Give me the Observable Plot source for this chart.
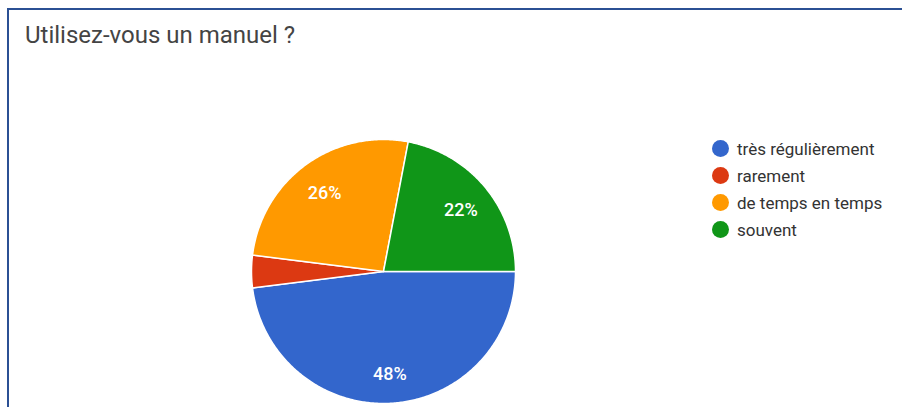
<!DOCTYPE html>
<html>
<head>
<meta charset="utf-8">
<script src="https://cdn.jsdelivr.net/npm/d3@7"></script>
<script src="https://cdn.jsdelivr.net/npm/@observablehq/plot@0.6"></script>
<style>
  html, body { margin: 0; padding: 0; background: #fff; }
  #wrap { position: relative; width: 902px; height: 407px; overflow: hidden; background: #fff; font-family: Roboto, "Noto Sans", sans-serif; }
  #frame { position: absolute; left: 7px; top: 8px; right: -10px; bottom: -10px; border-top: 2px solid #2b5094; border-left: 2px solid #2b5094; }
  #title { position: absolute; left: 25px; top: 21px; font-size: 24px; color: #444; white-space: nowrap; }
  #chart { position: absolute; left: 0; top: 0; }
  #legend { position: absolute; left: 712px; top: 135px; font-size: 17px; color: #333; }
  .item { display: flex; align-items: center; height: 27px; }
  .sw { width: 17px; height: 17px; border-radius: 50%; margin-right: 8px; }
</style>
</head>
<body>
<div id="wrap">
  <div id="frame"></div>
  <div id="title">Utilisez-vous un manuel ?</div>
  <div id="chart"></div>
  <div id="legend"></div>
</div>
<script>
const categories = ["très régulièrement", "rarement", "de temps en temps", "souvent"];
const counts = [24, 2, 13, 11];
const colors = ["#3366cc", "#dc3912", "#ff9900", "#109618"];
const titleText = "Utilisez-vous un manuel ?";

document.getElementById("title").textContent = titleText;

const total = d3.sum(counts);
const data = categories.map((c, i) => ({ category: c, value: counts[i] }));
const arcs = d3.pie().value(d => d.value).sort(null)
  .startAngle(Math.PI / 2).endAngle(Math.PI / 2 + 2 * Math.PI)(data);

// slice outlines in unit coordinates (scaled through Plot's x/y scales)
const slicePts = [];
for (const a of arcs) {
  const n = Math.max(4, Math.ceil((a.endAngle - a.startAngle) / 0.01));
  slicePts.push({ category: a.data.category, x: 0, y: 0 });
  for (let k = 0; k <= n; k++) {
    const t = a.startAngle + (a.endAngle - a.startAngle) * k / n;
    slicePts.push({ category: a.data.category, x: Math.sin(t), y: Math.cos(t) });
  }
  slicePts.push({ category: a.data.category, x: 0, y: 0 });
}

const labels = arcs
  .filter(a => a.data.value / total >= 0.05)
  .map(a => {
    const m = (a.startAngle + a.endAngle) / 2;
    const rr = 0.76;
    return { x: rr * Math.sin(m), y: rr * Math.cos(m), text: Math.round(a.data.value / total * 100) + "%" };
  });

const cx = 383, cy = 271, r = 132;
const plot = Plot.plot({
  width: 902,
  height: 407,
  margin: 0,
  x: { domain: [-1, 1], range: [cx - r, cx + r], axis: null },
  y: { domain: [-1, 1], range: [cy + r, cy - r], axis: null },
  color: { domain: categories, range: colors },
  marks: [
    Plot.line(slicePts, { x: "x", y: "y", z: "category", fill: "category", stroke: "#fff", strokeWidth: 1.5, strokeLinejoin: "round" }),
    Plot.text(labels, { x: "x", y: "y", dy: 3, text: "text", fill: "#fff", fontSize: 18, fontWeight: 500, fontFamily: "Roboto" })
  ],
  style: { background: "transparent", overflow: "visible" }
});
document.getElementById("chart").appendChild(plot);

const legend = document.getElementById("legend");
categories.forEach((c, i) => {
  const item = document.createElement("div");
  item.className = "item";
  const sw = document.createElement("span");
  sw.className = "sw";
  sw.style.background = colors[i];
  const tx = document.createElement("span");
  tx.textContent = c;
  item.appendChild(sw);
  item.appendChild(tx);
  legend.appendChild(item);
});
</script>
</body>
</html>
